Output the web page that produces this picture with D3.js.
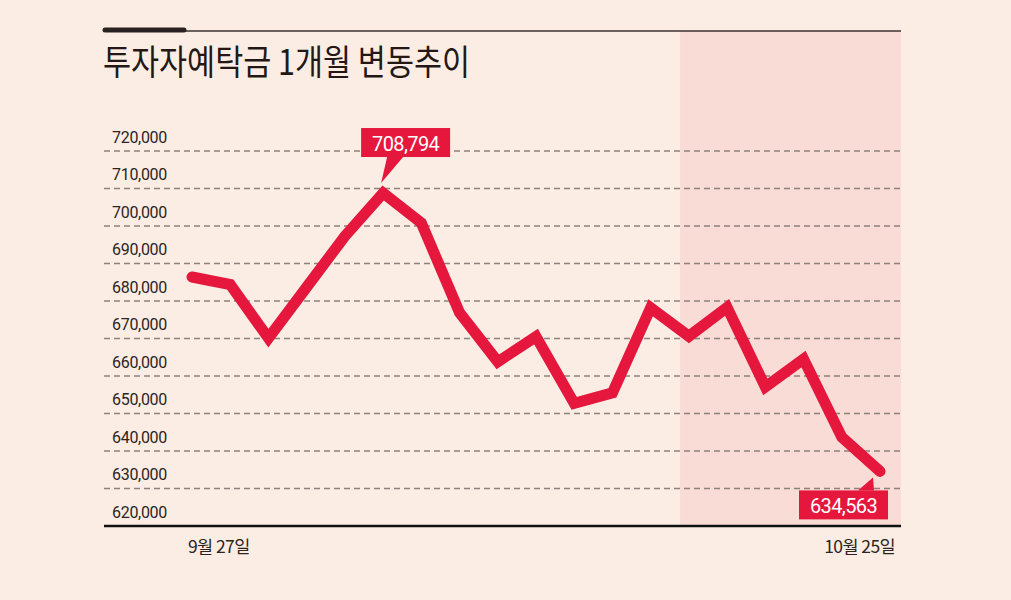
<!DOCTYPE html>
<html><head><meta charset="utf-8">
<script src="https://cdn.jsdelivr.net/npm/d3@7"></script>
<style>
html,body{margin:0;padding:0;background:#fcede4;}
svg{display:block;}
</style></head>
<body>
<svg id="c" width="1011" height="600"></svg>
<script>
const dates = ["9/27","9/28","9/29","9/30","10/1","10/5","10/6","10/7","10/8","10/12","10/13","10/14","10/15","10/18","10/19","10/20","10/21","10/22","10/25"];
const values = [686400,684400,670100,683700,697300,708794,700800,676900,663800,670500,652700,655500,678200,670600,678300,657100,664500,643700,634563];
const yTicks = [620000,630000,640000,650000,660000,670000,680000,690000,700000,710000,720000];
const xLabels = [{i:0, text:"9월 27일"},{i:18, text:"10월 25일"}];
const callouts = [{i:5, text:"708,794", pos:"above"},{i:18, text:"634,563", pos:"below"}];
const shadeStart = 12.77; // index position where the shaded period begins
const title = "투자자예탁금 1개월 변동추이";

(function(){
const svg = d3.select("#c");
const left = 104, right = 901, topY = 31;
const x = d3.scaleLinear().domain([0, dates.length-1]).range([192, 880]);
const y = d3.scaleLinear().domain([620000, 720000]).range([526, 151]);
const red = "#e5173c";

// shaded period
svg.append("rect").attr("x", x(shadeStart)).attr("y", topY)
  .attr("width", right - x(shadeStart)).attr("height", y(620000) - topY)
  .attr("fill", "#f9dcd5");

// top rule
svg.append("line").attr("x1", 186).attr("x2", right).attr("y1", topY).attr("y2", topY)
  .attr("stroke", "#3a3230").attr("stroke-width", 1.6);
svg.append("line").attr("x1", 105).attr("x2", 184).attr("y1", topY - 1).attr("y2", topY - 1)
  .attr("stroke", "#2a2220").attr("stroke-width", 5).attr("stroke-linecap", "round");

// title
svg.append("text").attr("x", 103).attr("y", 75).text(title)
  .attr("font-family", "'Noto Sans CJK KR'").attr("font-size", 35).attr("font-weight", 400)
  .attr("fill", "#231815").attr("textLength", 367).attr("lengthAdjust", "spacingAndGlyphs");

// grid lines
svg.append("g").selectAll("line").data(yTicks.filter(d => d > 620000)).join("line")
  .attr("x1", left).attr("x2", right).attr("y1", d => y(d)).attr("y2", d => y(d))
  .attr("stroke", "#8c817b").attr("stroke-width", 1.4).attr("stroke-dasharray", "6,4");

// axis line
svg.append("line").attr("x1", left).attr("x2", right).attr("y1", y(620000)).attr("y2", y(620000))
  .attr("stroke", "#111").attr("stroke-width", 2.5);

// y labels
const fmt = d3.format(",");
svg.append("g").selectAll("text").data(yTicks).join("text")
  .attr("x", 112).attr("y", d => y(d) - 8.5).text(d => fmt(d))
  .attr("font-family", "Roboto").attr("font-size", 16).attr("letter-spacing", -0.3)
  .attr("fill", "#2b2422");

// x labels
svg.append("g").selectAll("text").data(xLabels).join("text")
  .attr("x", (d, k) => k === 0 ? x(d.i) - 4 : x(d.i) + 15)
  .attr("text-anchor", (d, k) => k === 0 ? "start" : "end")
  .attr("y", 553).text(d => d.text)
  .attr("font-family", "'Noto Sans CJK KR'").attr("font-size", 17.5).attr("letter-spacing", -0.6)
  .attr("fill", "#2b2422");

// line
const line = d3.line().x((d, i) => x(i)).y(d => y(d));
svg.append("path").datum(values).attr("d", line)
  .attr("fill", "none").attr("stroke", red).attr("stroke-width", 11)
  .attr("stroke-linejoin", "miter").attr("stroke-miterlimit", 3).attr("stroke-linecap", "round");

// callouts
callouts.forEach(c => {
  const px = x(c.i), py = y(values[c.i]);
  const g = svg.append("g");
  let bx, by, bw = 89, bh = 29, tri;
  if (c.pos === "above") {
    bx = px - 22; by = py - 65;
    tri = [[px - 2, py - 10], [px + 4, by + bh], [px + 20, by + bh]];
  } else {
    bx = px - 81; by = py + 19;
    tri = [[px - 7, py + 6], [px - 22, by], [px - 6, by]];
  }
  g.append("rect").attr("x", bx).attr("y", by).attr("width", bw).attr("height", bh).attr("fill", red);
  g.append("path").attr("d", d3.line()(tri) + "Z").attr("fill", red);
  g.append("text").attr("x", bx + bw/2).attr("y", by + 23).attr("text-anchor", "middle")
    .text(c.text).attr("font-family", "Roboto").attr("font-size", 20).attr("letter-spacing", -0.6)
    .attr("fill", "#fff");
});
})();
</script>
</body></html>
